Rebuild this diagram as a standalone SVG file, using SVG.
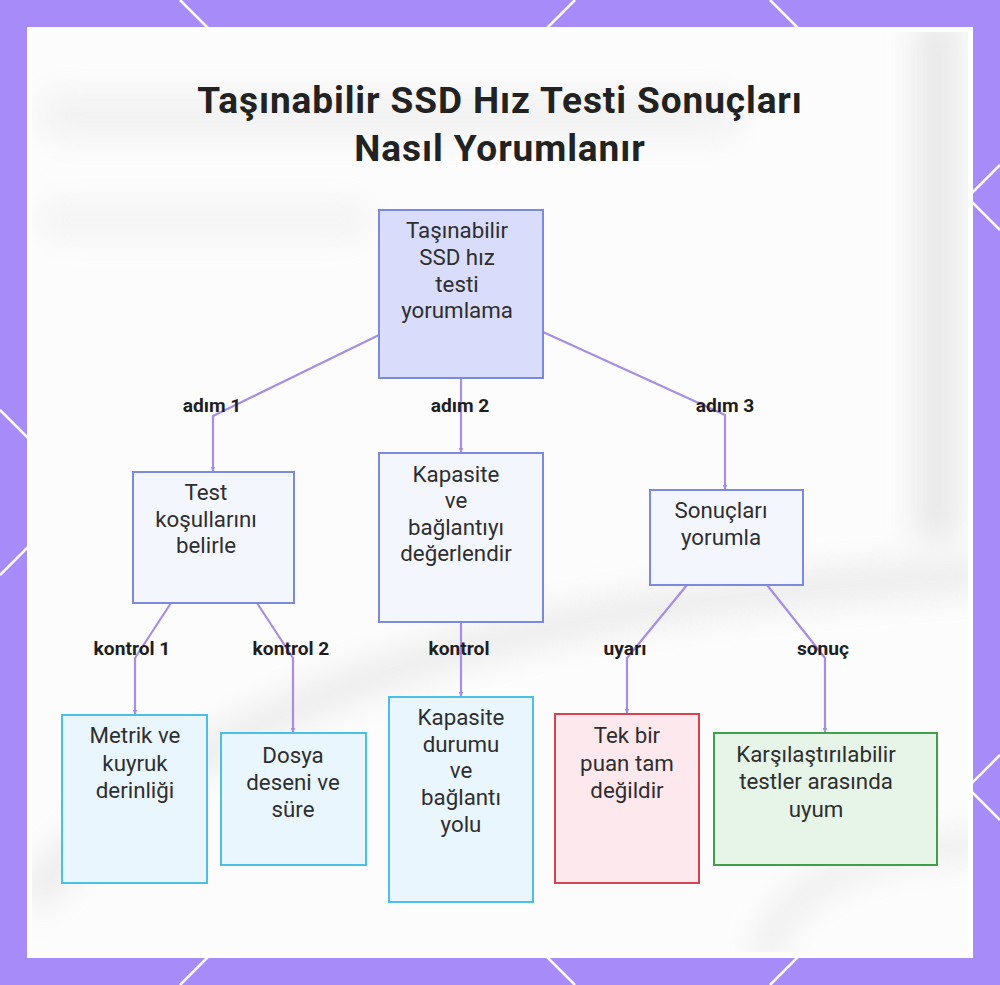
<svg xmlns="http://www.w3.org/2000/svg" width="1000" height="985" viewBox="0 0 1000 985">
  <defs>
    <style>
      .title { font-family: Roboto, "Liberation Sans", sans-serif; font-weight: 700; font-size: 37px; letter-spacing: 0.9px; fill: #222222; text-anchor: middle; }
      .ntext { font-family: Roboto, "Liberation Sans", sans-serif; font-size: 22.3px; fill: #2e2e2e; text-anchor: middle; }
      .elabel { font-family: Roboto, "Liberation Sans", sans-serif; font-weight: 700; font-size: 19.2px; fill: #1e1e1e; text-anchor: middle; }
      .edge { fill: none; stroke: #a68ee6; stroke-width: 2.2; stroke-linejoin: round; }
      .deco { stroke: #ffffff; stroke-width: 2.5; fill: none; }
      .n-root { fill: #d9ddfb; stroke: #7c8ade; stroke-width: 2; }
      .n-step { fill: #f4f6fe; stroke: #7c8ade; stroke-width: 2; }
      .n-info { fill: #eaf6fd; stroke: #4cbfe6; stroke-width: 2; }
      .n-warn { fill: #fde9ed; stroke: #d5434f; stroke-width: 2; }
      .n-ok { fill: #e7f4e8; stroke: #3f9f4b; stroke-width: 2; }
    </style>
    <marker id="arrow" viewBox="0 0 8 8" refX="7" refY="4" markerWidth="5" markerHeight="5" orient="auto" markerUnits="userSpaceOnUse">
      <path d="M0,0 L8,4 L0,8 z" fill="#a68ee6"/>
    </marker>
    <filter id="blur" x="-50%" y="-50%" width="200%" height="200%">
      <feGaussianBlur stdDeviation="14"/>
    </filter>
    <clipPath id="inner">
      <rect x="32" y="32" width="936" height="920"/>
    </clipPath>
  </defs>

  <!-- background -->
  <rect x="0" y="0" width="1000" height="985" fill="#a78bf9"/>
  <g class="deco">
    <line x1="0" y1="410" x2="575" y2="985"/>
    <line x1="180" y1="0" x2="1000" y2="820"/>
    <line x1="770" y1="0" x2="1000" y2="230"/>
    <line x1="575" y1="0" x2="0" y2="575"/>
    <line x1="1000" y1="165" x2="180" y2="985"/>
    <line x1="1000" y1="755" x2="770" y2="985"/>
  </g>
  <rect x="27" y="27" width="946" height="931" fill="#ffffff"/>
  <rect x="32" y="32" width="936" height="920" fill="#fcfcfc"/>
  <g clip-path="url(#inner)" filter="url(#blur)" opacity="0.85">
    <rect x="915" y="20" width="45" height="520" fill="#e6e6e6"/>
    <path d="M30,900 C200,700 500,600 980,575" stroke="#ececec" stroke-width="40" fill="none"/>
    <path d="M760,960 C790,880 860,850 990,845" stroke="#ededed" stroke-width="30" fill="none"/>
    <rect x="40" y="90" width="700" height="50" rx="20" fill="#f1f1f1"/>
    <rect x="40" y="200" width="330" height="40" rx="18" fill="#f3f3f3"/>
  </g>

  <!-- title -->
  <text class="title" x="500" y="113">Taşınabilir SSD Hız Testi Sonuçları</text>
  <text class="title" x="500" y="161">Nasıl Yorumlanır</text>

  <!-- connectors -->
  <g id="connectors">
    <path class="edge" d="M379,335 L213,416 L213,471" marker-end="url(#arrow)"/>
    <path class="edge" d="M461,378 L461,452" marker-end="url(#arrow)"/>
    <path class="edge" d="M543,332 L725,415 L725,489" marker-end="url(#arrow)"/>
    <path class="edge" d="M171,603 L135,658 L135,714" marker-end="url(#arrow)"/>
    <path class="edge" d="M257,603 L293,658 L293,732" marker-end="url(#arrow)"/>
    <path class="edge" d="M461,622 L461,696" marker-end="url(#arrow)"/>
    <path class="edge" d="M687,585 L627,658 L627,713" marker-end="url(#arrow)"/>
    <path class="edge" d="M767,585 L825,658 L825,732" marker-end="url(#arrow)"/>
    <text class="elabel" x="212" y="412">adım 1</text>
    <text class="elabel" x="460" y="412">adım 2</text>
    <text class="elabel" x="725" y="412">adım 3</text>
    <text class="elabel" x="132" y="655">kontrol 1</text>
    <text class="elabel" x="291" y="655">kontrol 2</text>
    <text class="elabel" x="459" y="655">kontrol</text>
    <text class="elabel" x="625" y="655">uyarı</text>
    <text class="elabel" x="823" y="655">sonuç</text>
  </g>

  <!-- nodes -->
  <g id="root">
    <rect class="n-root" x="379" y="210" width="164" height="168"/>
    <text class="ntext" x="457" y="238">Taşınabilir</text>
    <text class="ntext" x="457" y="265">SSD hız</text>
    <text class="ntext" x="457" y="292">testi</text>
    <text class="ntext" x="457" y="318">yorumlama</text>
  </g>
  <g id="step1">
    <rect class="n-step" x="133" y="472" width="161" height="131"/>
    <text class="ntext" x="206" y="500">Test</text>
    <text class="ntext" x="206" y="527">koşullarını</text>
    <text class="ntext" x="206" y="553">belirle</text>
  </g>
  <g id="step2">
    <rect class="n-step" x="379" y="453" width="164" height="169"/>
    <text class="ntext" x="456" y="482">Kapasite</text>
    <text class="ntext" x="456" y="508">ve</text>
    <text class="ntext" x="456" y="535">bağlantıyı</text>
    <text class="ntext" x="456" y="561">değerlendir</text>
  </g>
  <g id="step3">
    <rect class="n-step" x="650" y="490" width="153" height="95"/>
    <text class="ntext" x="721" y="518">Sonuçları</text>
    <text class="ntext" x="721" y="545">yorumla</text>
  </g>
  <g id="check1">
    <rect class="n-info" x="62" y="715" width="145" height="168"/>
    <text class="ntext" x="135" y="743">Metrik ve</text>
    <text class="ntext" x="135" y="771">kuyruk</text>
    <text class="ntext" x="135" y="798">derinliği</text>
  </g>
  <g id="check2">
    <rect class="n-info" x="221" y="733" width="145" height="132"/>
    <text class="ntext" x="293" y="763">Dosya</text>
    <text class="ntext" x="293" y="790">deseni ve</text>
    <text class="ntext" x="293" y="817">süre</text>
  </g>
  <g id="check3">
    <rect class="n-info" x="389" y="697" width="144" height="205"/>
    <text class="ntext" x="461" y="725">Kapasite</text>
    <text class="ntext" x="461" y="752">durumu</text>
    <text class="ntext" x="461" y="778">ve</text>
    <text class="ntext" x="461" y="805">bağlantı</text>
    <text class="ntext" x="461" y="832">yolu</text>
  </g>
  <g id="warning">
    <rect class="n-warn" x="555" y="714" width="144" height="169"/>
    <text class="ntext" x="627" y="743">Tek bir</text>
    <text class="ntext" x="627" y="771">puan tam</text>
    <text class="ntext" x="627" y="798">değildir</text>
  </g>
  <g id="result">
    <rect class="n-ok" x="714" y="733" width="223" height="132"/>
    <text class="ntext" x="816" y="762">Karşılaştırılabilir</text>
    <text class="ntext" x="816" y="789">testler arasında</text>
    <text class="ntext" x="816" y="817">uyum</text>
  </g>
</svg>
